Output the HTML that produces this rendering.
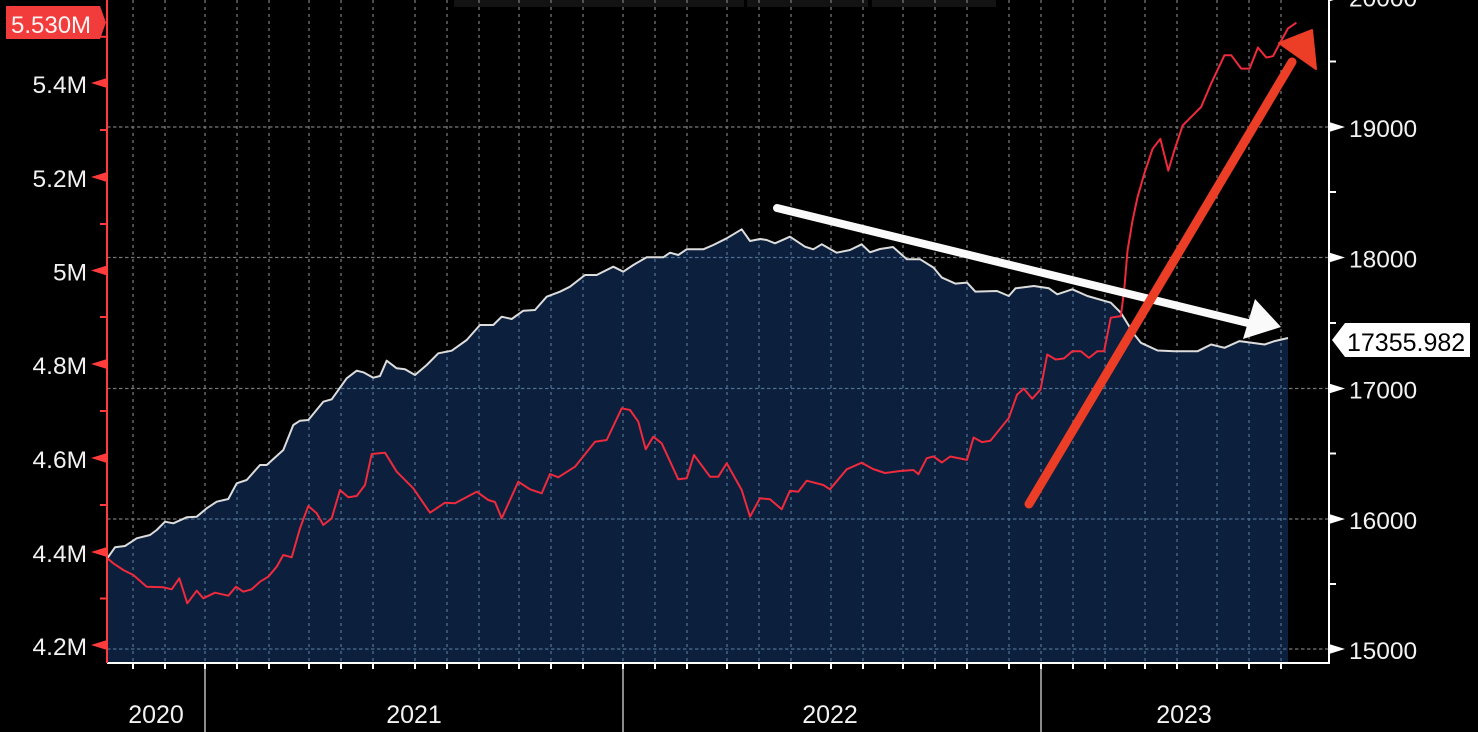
<!DOCTYPE html>
<html><head><meta charset="utf-8"><style>
html,body{margin:0;padding:0;background:#000;}
svg{display:block;}
text{font-family:"Liberation Sans",sans-serif;}
</style></head><body>
<svg width="1478" height="732" viewBox="0 0 1478 732" xmlns="http://www.w3.org/2000/svg">
<defs>
<clipPath id="plot"><rect x="107" y="0" width="1222" height="663"/></clipPath>
<clipPath id="fillclip"><polygon id="fp" points="107.3,558.3 115,547.3 125,546 136.7,538.3 150,535 156.7,530 165,521.7 173.3,523.3 186.7,517.3 196.7,516.7 206.7,508.3 216.7,501.7 228.3,499 236.7,483.3 246.7,480 260,465 266.7,465 283.3,450 293.3,425 300,420.7 308.3,420 323.3,401.7 331.7,399.3 346.7,378.3 356.7,370.7 363.3,372.3 373.3,377.7 380,376 386.7,360.7 396.7,368.3 405,369.3 415,375 426.7,365 438.3,353.3 451.7,350.7 466.7,340 472,334 480,325 493.3,325 501.7,316.7 511.7,319 523.3,310.7 535,310 546.7,296.7 560,291.7 570,286.7 585,275 596.7,275 613.3,266.7 623.3,271.7 633.3,265 646.7,257.3 663.3,257.3 670,252.7 678.3,255 686.7,249.3 703.3,249.3 713.3,245 726.7,238.3 741.7,229.3 750,241 760,239 766.7,240 775,243.3 790,236.7 805,246.7 813.3,249.3 821.7,244.3 836.7,252.7 850,250 861.7,244.3 870,252.3 880,249 893,247 906.8,259.2 920,259.2 933.5,267.6 941.9,277.6 955.3,283.6 967,282.6 975.3,291.6 997,291 1008.8,296 1015.5,288.3 1033.9,286 1048.9,288.3 1057.3,294.3 1072.3,289.3 1087.4,296 1110.8,302.7 1120.8,312.7 1134.2,334.4 1140.9,342.8 1157.6,350.5 1174.3,351.2 1197.7,351.2 1211.1,344.5 1224.5,347.8 1239.5,341.1 1264.6,344.5 1274.6,341.1 1288,338 1288,663 107,663"/></clipPath>
<g id="grid">
<path d="M107,127H1329M107,257.5H1329M107,388.5H1329M107,519H1329M107,649H1329" stroke-dasharray="3.5,2.5"/>
<path d="M133,0V663M165,0V663M205,0V663M237,0V663M269,0V663M309,0V663M341,0V663M373,0V663M415,0V663M447,0V663M479,0V663M519,0V663M551,0V663M583,0V663M623,0V663M655,0V663M687,0V663M727,0V663M759,0V663M791,0V663M831,0V663M863,0V663M903,0V663M935,0V663M967,0V663M1009,0V663M1041,0V663M1073,0V663M1105,0V663M1145,0V663M1177,0V663M1217,0V663M1249,0V663M1281,0V663" stroke-dasharray="3,4"/>
</g>
</defs>

<rect x="454" y="0" width="290" height="7" fill="#131313"/>
<rect x="747" y="0" width="121" height="7" fill="#131313"/>
<rect x="872" y="0" width="124" height="7" fill="#131313"/>

<use href="#grid" stroke="#767676" stroke-width="1.3" fill="none" clip-path="url(#plot)"/>

<use href="#fp" fill="#0c1f3c"/>
<g clip-path="url(#fillclip)">
<use href="#grid" stroke="#4d6f90" stroke-width="1.3" fill="none"/>
</g>

<g clip-path="url(#plot)">
<polyline fill="none" stroke="#dcdcdc" stroke-width="2" stroke-linejoin="round" points="107.3,558.3 115,547.3 125,546 136.7,538.3 150,535 156.7,530 165,521.7 173.3,523.3 186.7,517.3 196.7,516.7 206.7,508.3 216.7,501.7 228.3,499 236.7,483.3 246.7,480 260,465 266.7,465 283.3,450 293.3,425 300,420.7 308.3,420 323.3,401.7 331.7,399.3 346.7,378.3 356.7,370.7 363.3,372.3 373.3,377.7 380,376 386.7,360.7 396.7,368.3 405,369.3 415,375 426.7,365 438.3,353.3 451.7,350.7 466.7,340 472,334 480,325 493.3,325 501.7,316.7 511.7,319 523.3,310.7 535,310 546.7,296.7 560,291.7 570,286.7 585,275 596.7,275 613.3,266.7 623.3,271.7 633.3,265 646.7,257.3 663.3,257.3 670,252.7 678.3,255 686.7,249.3 703.3,249.3 713.3,245 726.7,238.3 741.7,229.3 750,241 760,239 766.7,240 775,243.3 790,236.7 805,246.7 813.3,249.3 821.7,244.3 836.7,252.7 850,250 861.7,244.3 870,252.3 880,249 893,247 906.8,259.2 920,259.2 933.5,267.6 941.9,277.6 955.3,283.6 967,282.6 975.3,291.6 997,291 1008.8,296 1015.5,288.3 1033.9,286 1048.9,288.3 1057.3,294.3 1072.3,289.3 1087.4,296 1110.8,302.7 1120.8,312.7 1134.2,334.4 1140.9,342.8 1157.6,350.5 1174.3,351.2 1197.7,351.2 1211.1,344.5 1224.5,347.8 1239.5,341.1 1264.6,344.5 1274.6,341.1 1288,338"/>

<polyline fill="none" stroke="#ee2a3c" stroke-width="2" stroke-linejoin="round" points="107.3,558.3 113.3,563.3 123.3,570 133.3,575 146.7,586.7 163.3,587.3 171.7,589.3 179.3,578.3 187.3,603.3 196.7,590.7 203.3,598.3 215,592.7 228.3,595.7 236,586.7 243.3,591.7 251.7,589.3 260,581.7 268.3,576.7 276.7,566.7 283.3,555 291.7,557.3 300,528.3 308.3,506 316.7,513.3 323.3,525 331.7,518.3 340,490 348.3,497.3 356.7,496 365,485 371.7,454 385,452.7 396.7,471.7 413.3,488.3 430,512.7 445,502.7 455,503.3 476.7,491.7 488.3,500 495,502 501.7,518.3 518.3,481.7 530,489.3 541.7,493.3 550,474 558.3,477.3 575,466.7 595,441.7 606.7,440 621.7,408.3 630,410 638.3,421.7 645.7,449.3 653.3,436.7 661.7,443.3 678.3,479.3 686.7,478.3 694,455 710,476.7 718.3,476.7 726.7,463.3 741.7,490 750,516.7 760,498.3 770,499.3 781.7,509.3 790,490.7 798.3,491.7 806.7,480.7 823.3,485 830,489.3 846.7,469.3 861.7,462.7 873,469 885,473 900,471 913.4,470 918.5,474.2 926.8,458.2 933.5,456.5 941.9,462.5 950.2,456.5 967,459.9 973.6,437.5 982,442.1 990.4,440.8 1008.8,418 1017.1,394.6 1023.8,388.6 1032.2,398.7 1040.5,389.6 1047.2,354.5 1055.6,359.5 1063.9,358.5 1072.3,351.2 1080.7,351.2 1089,357.9 1097.4,351.2 1104.1,351.2 1110.8,317.7 1120.8,316.1 1124.1,291 1127.5,250.8 1132.5,220.7 1137.5,197.3 1144.2,173.9 1152.6,148.8 1160.3,138.8 1168.3,170.6 1174.3,150.5 1182.7,125.4 1192.7,115.4 1201.1,107 1211.1,83.6 1224.5,55.2 1231.2,55.2 1241.2,68.6 1249.6,68.6 1257.9,47.5 1266.3,57.5 1273,56.2 1279.7,43.5 1288,28.4 1296.4,22.7"/>
</g>

<line x1="107" y1="663" x2="1330" y2="663" stroke="#fff" stroke-width="2"/>
<path d="M133,663V669M165,663V669M205,663V669M237,663V669M269,663V669M309,663V669M341,663V669M373,663V669M415,663V669M447,663V669M479,663V669M519,663V669M551,663V669M583,663V669M623,663V669M655,663V669M687,663V669M727,663V669M759,663V669M791,663V669M831,663V669M863,663V669M903,663V669M935,663V669M967,663V669M1009,663V669M1041,663V669M1073,663V669M1105,663V669M1145,663V669M1177,663V669M1217,663V669M1249,663V669M1281,663V669" stroke="#fff" stroke-width="2"/>
<path d="M205,669V732M623,669V732M1041,669V732" stroke="#8a8a8a" stroke-width="2"/>
<g fill="#f2f2f2" font-size="25" text-anchor="middle">
<text x="156" y="723">2020</text>
<text x="414" y="723">2021</text>
<text x="830" y="723">2022</text>
<text x="1184" y="723">2023</text>
</g>

<line x1="107" y1="0" x2="107" y2="663" stroke="#ff3b3b" stroke-width="2"/>
<g fill="#ff3b3b">
<polygon points="91,-10.7 107,-15.7 107,-5.7"/>
<polygon points="91,83 107,78 107,88"/>
<polygon points="91,177 107,172 107,182"/>
<polygon points="91,270.5 107,265.5 107,275.5"/>
<polygon points="91,364 107,359 107,369"/>
<polygon points="91,458 107,453 107,463"/>
<polygon points="91,552 107,547 107,557"/>
<polygon points="91,645 107,640 107,650"/>
</g>
<path d="M100,36.7H107M100,130H107M100,224H107M100,317H107M100,411H107M100,505H107M100,598.5H107" stroke="#ff3b3b" stroke-width="2"/>
<g fill="#f2f2f2" font-size="24.5" text-anchor="end">
<text x="87" y="-1">5.6M</text>
<text x="87" y="93">5.4M</text>
<text x="87" y="187">5.2M</text>
<text x="87" y="280.5">5M</text>
<text x="87" y="374">4.8M</text>
<text x="87" y="468">4.6M</text>
<text x="87" y="562">4.4M</text>
<text x="87" y="655">4.2M</text>
</g>

<line x1="1329" y1="0" x2="1329" y2="664" stroke="#fff" stroke-width="2"/>
<g fill="#fff">
<polygon points="1345,-3.5 1329,-8.5 1329,1.5"/>
<polygon points="1345,127 1329,122 1329,132"/>
<polygon points="1345,257.5 1329,252.5 1329,262.5"/>
<polygon points="1345,388.5 1329,383.5 1329,393.5"/>
<polygon points="1345,519 1329,514 1329,524"/>
<polygon points="1345,649 1329,644 1329,654"/>
</g>
<path d="M1329,61.5H1336M1329,192H1336M1329,323H1336M1329,453.5H1336M1329,584H1336" stroke="#fff" stroke-width="2"/>
<g fill="#f2f2f2" font-size="24.5">
<text x="1349" y="6.5">20000</text>
<text x="1349" y="137">19000</text>
<text x="1349" y="267.5">18000</text>
<text x="1349" y="398.5">17000</text>
<text x="1349" y="529">16000</text>
<text x="1349" y="659">15000</text>
</g>

<line x1="777" y1="208" x2="1252" y2="324" stroke="#fafafa" stroke-width="8" stroke-linecap="round"/>
<polygon points="1281,327 1255,299 1243,339" fill="#fafafa"/>
<line x1="1029" y1="504" x2="1292" y2="62" stroke="#ec3d26" stroke-width="9" stroke-linecap="round"/>
<polygon points="1312,30 1279,43 1316,69" fill="#ec3d26" stroke="#ec3d26" stroke-width="2" stroke-linejoin="round"/>

<polygon points="6,6 100,6 106,22.5 100,39 6,39" fill="#f23c3c"/>
<text x="11" y="33" fill="#fff4f4" font-size="24">5.530M</text>
<polygon points="1332,340 1345,323 1470,323 1470,357 1345,357" fill="#fff"/>
<text x="1347" y="351" fill="#000" font-size="25">17355.982</text>
</svg>
</body></html>
